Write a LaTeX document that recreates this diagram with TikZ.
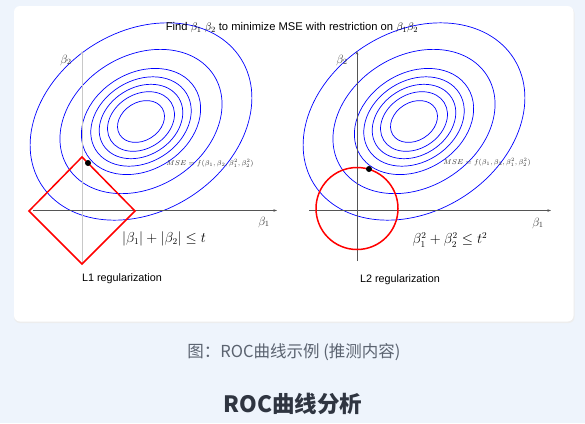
\documentclass[tikz,border=0pt]{standalone}
\usepackage{fontspec}
\setmainfont{Liberation Sans}
\newfontfamily\cjk{Noto Sans CJK SC}
\usetikzlibrary{arrows.meta}
\definecolor{bgc}{HTML}{EEF4FC}
\definecolor{capc}{HTML}{5B6370}
\definecolor{headc}{HTML}{2F3541}
\definecolor{axisc}{HTML}{555555}
\definecolor{axisl}{HTML}{C8C8C8}
\tikzset{
  contour/.style={blue, line width=0.7pt},
  axisline/.style={axisc, line width=0.8pt, -{Stealth[length=3.5pt,width=2.5pt]}},
  axislight/.style={axisl, line width=0.8pt, -{Stealth[length=3.5pt,width=2.5pt]}},
  constraint/.style={red, line width=1.5pt},
  dotmark/.style={circle, fill=black, inner sep=0pt, minimum size=6pt},
  sanslabel/.style={font=\fontsize{10.8}{12}\selectfont, text=black, inner sep=0pt},
  axlabel/.style={font=\fontsize{11.5}{12}\selectfont, inner sep=0pt, text=black!80},
  msel/.style={font=\fontsize{7.5}{9}\selectfont, inner sep=0pt, text=black!80},
  consl/.style={font=\fontsize{13.5}{16}\selectfont, inner sep=0pt},
}
\begin{document}
\begin{tikzpicture}[x=1pt,y=-1pt]
\fill[bgc] (0,0) rectangle (585,423);
\useasboundingbox (0,0) rectangle (585,423);
% card
\fill[black!7, rounded corners=6pt] (14,7.5) rectangle (574.5,323);
\fill[white, rounded corners=6pt] (14,6) rectangle (573.5,321.5);

% ===== left panel =====
\foreach \s in {0.212,0.302,0.377,0.453,0.538,0.731,1}{
  \draw[contour, rotate around={32:(141,121.5)}] (141,121.5) ellipse [x radius={\s*118pt}, y radius={\s*90pt}];
}
\coordinate (lxa) at (33,210.5);
\coordinate (lxb) at (277,210.5);
\coordinate (lya) at (82,264);
\coordinate (lyb) at (82,51);
\draw[axislight] (lya) -- (lyb);
\draw[axisline] (lxa) -- (lxb);
\coordinate (dl) at (29,211);
\coordinate (dt) at (82,157);
\coordinate (dr) at (135,211);
\coordinate (db) at (82,264);
\draw[constraint, line join=miter] (dl) -- (dt) -- (dr) -- (db) -- cycle;
\node[dotmark] (dotL) at (88,163) {};
\node[axlabel] (b2L) at (66,60) {$\beta_2$};
\node[axlabel] (b1L) at (264,222) {$\beta_1$};
\node[msel] (mseL) at (210,163) {$MSE=f(\beta_1,\beta_2,\beta_1^2,\beta_2^2)$};
\node[consl] (consL) at (164,239) {$|\beta_1|+|\beta_2|\le t$};
\node[sanslabel] (l1) at (122,279) {L1 regularization};

% ===== right panel =====
\foreach \s in {0.212,0.302,0.377,0.453,0.538,0.731,1}{
  \draw[contour, rotate around={32:(414,121.5)}] (414,121.5) ellipse [x radius={\s*118pt}, y radius={\s*90pt}];
}
\coordinate (rxa) at (309,210.5);
\coordinate (rxb) at (551,210.5);
\coordinate (rya) at (357,261);
\coordinate (ryb) at (357,51);
\draw[axisline] (rya) -- (ryb);
\draw[axisline] (rxa) -- (rxb);
\node[circle, draw=red, line width=1.5pt, minimum size=82pt, inner sep=0pt] (ball) at (357,208.5) {};
\node[dotmark] (dotR) at (369,169) {};
\node[axlabel] (b2R) at (342,60) {$\beta_2$};
\node[axlabel] (b1R) at (538,223) {$\beta_1$};
\node[msel] (mseR) at (487,162) {$MSE=f(\beta_1,\beta_2,\beta_1^2,\beta_2^2)$};
\node[consl] (consR) at (450,240) {$\beta_1^2+\beta_2^2\le t^2$};
\node[sanslabel] (l2) at (400,280) {L2 regularization};

% title
\node[sanslabel, font=\fontsize{11.2}{12}\selectfont] (title) at (292,28) {Find $\beta_1$ $\beta_2$ to minimize MSE with restriction on $\beta_1\beta_2$};

% caption and heading
\node[font=\cjk\fontsize{16.5}{19}\selectfont, text=capc, inner sep=0pt] (cap) at (294,352) {图：ROC曲线示例 (推测内容)};
\node[font=\cjk\bfseries\fontsize{22.5}{25}\selectfont, text=headc, inner sep=0pt] (head) at (293,404) {ROC曲线分析};
\end{tikzpicture}
\end{document}
